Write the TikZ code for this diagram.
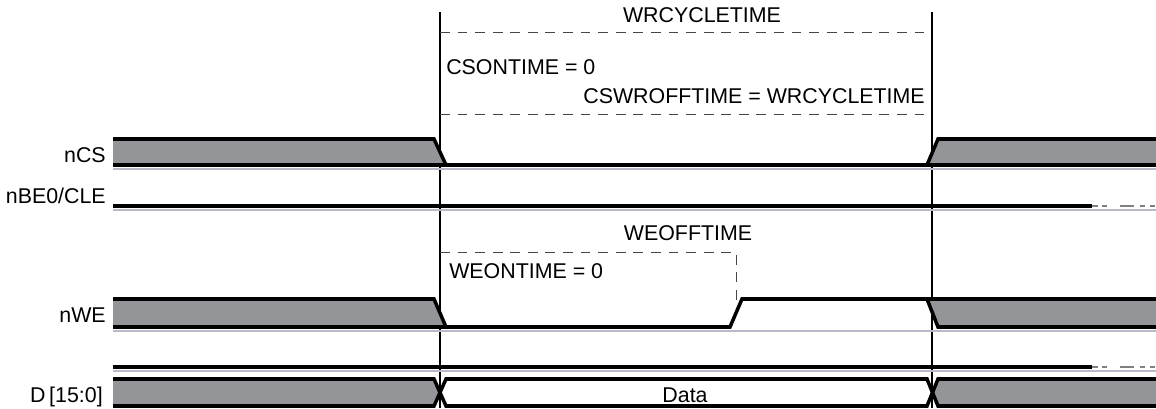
\documentclass[tikz,border=0pt]{standalone}
\usepackage{fontspec}
\setmainfont{Liberation Sans}
\usepackage{xcolor}
\usepackage{tikz}

\definecolor{busgray}{RGB}{147,149,152}
\definecolor{shadowgray}{RGB}{185,186,200}
\definecolor{dimgray}{RGB}{70,70,70}

\tikzset{
  wave/.style={line width=2.5pt, black, line join=miter},
  shadow/.style={line width=1.4pt, shadowgray},
  guide/.style={line width=0.75pt, black},
  timedash/.style={line width=0.7pt, dimgray, dash pattern=on 7pt off 5.5pt},
  tail/.style={line width=1.6pt, gray, dash pattern=on 4pt off 3pt on 4pt off 9pt on 10pt off 4pt},
  signame/.style={anchor=base east, inner sep=0pt},
  txt/.style={inner sep=0pt}
}

\begin{document}
\begin{tikzpicture}[x=0.025cm, y=-0.025cm, font=\fontsize{15.2}{18}\selectfont]
    \useasboundingbox (0,0) rectangle (1156,408);

    % Edge guides
    \foreach \x in {440,932} {
        \draw[guide] (\x,12) -- (\x,408);
    }

    % Shadow lines under the signals
    \foreach \y in {169,210,331,371} {
        \draw[shadow] (113,\y) -- (1156,\y);
    }

    % nCS
    \fill[busgray] (113,139) -- (434,139) -- (446,165) -- (113,165) -- cycle;
    \fill[busgray] (938,139) -- (1156,139) -- (1156,165) -- (927,165) -- cycle;
    \draw[wave] (113,139) -- (434,139) -- (446,165) -- (927,165) -- (938,139) -- (1156,139);
    \draw[wave] (113,165) -- (1156,165);
    \node[signame] (ncs) at (106,162) {nCS};

    % nBE0/CLE
    \draw[wave] (113,206) -- (1092,206);
    \draw[tail] (1092,206) -- (1156,206);
    \node[signame] (nbe) at (106,203) {nBE0/CLE};

    % nWE
    \fill[busgray] (113,299) -- (434,299) -- (446,327) -- (113,327) -- cycle;
    \fill[busgray] (927,299) -- (1156,299) -- (1156,327) -- (938,327) -- cycle;
    \draw[wave] (113,299) -- (434,299) -- (446,327) -- (730,327) -- (742,299) -- (1156,299);
    \draw[wave] (113,327) -- (730,327);
    \draw[wave] (927,299) -- (938,327) -- (1156,327);
    \node[signame] (nwe) at (106,322) {nWE};

    % unnamed line
    \draw[wave] (113,367) -- (1092,367);
    \draw[tail] (1092,367) -- (1156,367);

    % D[15:0]
    \fill[busgray] (113,379) -- (434,379) -- (440,392.5) -- (434,406) -- (113,406) -- cycle;
    \fill[busgray] (1156,379) -- (938,379) -- (932,392.5) -- (938,406) -- (1156,406) -- cycle;
    \draw[wave] (113,379) -- (434,379) -- (446,406) -- (927,406) -- (938,379) -- (1156,379);
    \draw[wave] (113,406) -- (434,406) -- (446,379) -- (927,379) -- (938,406) -- (1156,406);
    \node[signame] (dbus) at (103,402) {D\,[15:0]};
    \node[txt, anchor=base] (data) at (685,402) {Data};

    % Cycle timing
    \draw[timedash] (440,32) -- (932,32);
    \draw[timedash] (440,114) -- (932,114);
    \node[txt, anchor=base] (wrcyc) at (702,22) {WRCYCLETIME};
    \node[txt, anchor=base west] (cson) at (446,74) {CSONTIME = 0};
    \node[txt, anchor=base east] (cswroff) at (925,103) {CSWROFFTIME = WRCYCLETIME};

    % WE timing
    \draw[timedash] (440,252) -- (736,252) -- (736,302);
    \node[txt, anchor=base] (weoff) at (688,240) {WEOFFTIME};
    \node[txt, anchor=base west] (weon) at (449,278) {WEONTIME = 0};
\end{tikzpicture}
\end{document}
